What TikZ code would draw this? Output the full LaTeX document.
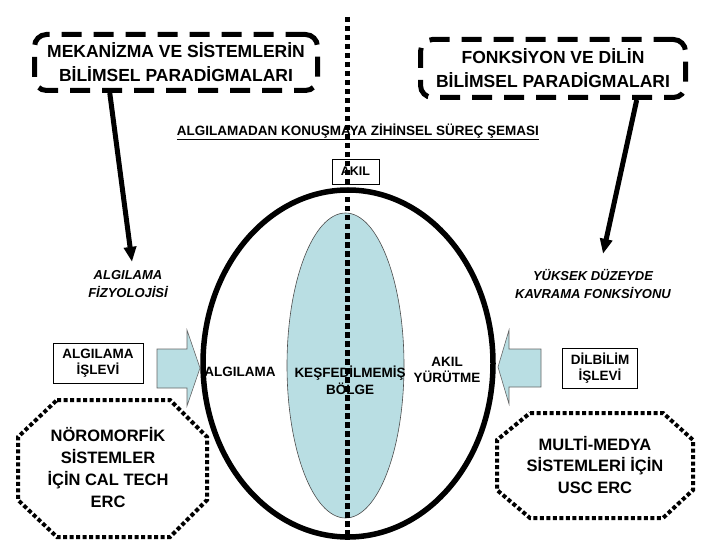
\documentclass[tikz,border=0pt]{standalone}
\usepackage{fontspec}
\setmainfont{Liberation Sans}
\usetikzlibrary{arrows.meta,calc}
\definecolor{acikmavi}{RGB}{185,222,227}
\begin{document}
\begin{tikzpicture}[x=1pt,y=-1pt,line join=miter,>={Triangle[length=15pt,width=12pt]},font=\bfseries]
	\tikzset{kesikkutu/.style={draw,line width=5pt,dash pattern=on 20pt off 12pt,rounded corners=12pt,
			align=center,inner sep=0pt,font=\bfseries\fontsize{17.5}{24}\selectfont},
		kutu/.style={draw,line width=0.8pt,inner sep=0pt},
		etiket/.style={align=center,font=\bfseries\itshape\fontsize{13}{18}\selectfont},
		metin/.style={align=center,font=\bfseries\fontsize{13.5}{16.5}\selectfont},
		ekip/.style={align=center,font=\bfseries\fontsize{16.5}{21.7}\selectfont},
		kalinok/.style={->,line width=5pt},
		blokok/.style={fill=acikmavi,draw=black!60,line width=0.6pt},
		noktali/.style={line width=4pt,dash pattern=on 4pt off 2.5pt},
		dikey/.style={line width=5pt,dash pattern=on 5.5pt off 3.5pt}}
	\useasboundingbox (0,0) rectangle (720,540);
	%--------- Paradigmalar
	\node[kesikkutu,minimum width=283pt,minimum height=56pt] (mekanizma) at (176,62.5) {MEKANİZMA VE SİSTEMLERİN\\BİLİMSEL PARADİGMALARI};
	\node[kesikkutu,minimum width=265pt,minimum height=58pt] (fonksiyon) at (553,68.5) {FONKSİYON VE DİLİN\\BİLİMSEL PARADİGMALARI};
	\node[etiket] (fizyoloji) at (128,284) {ALGILAMA\\FİZYOLOJİSİ};
	\node[etiket] (yuksek) at (593,284) {YÜKSEK DÜZEYDE\\KAVRAMA FONKSİYONU};
	\draw[kalinok] ($(mekanizma.south west)!0.27!(mekanizma.south east)$) -- ([xshift=4pt,yshift=5pt]fizyoloji.north);
	\draw[kalinok] ($(fonksiyon.south west)!0.81!(fonksiyon.south east)$) -- ([xshift=10pt,yshift=12pt]yuksek.north);
	%--------- Baslik
	\node[font=\bfseries\fontsize{13.5}{16}\selectfont] (baslik) at (358,132) {\underline{ALGILAMADAN KONUŞMAYA ZİHİNSEL SÜREÇ ŞEMASI}};
	\node[kutu,minimum width=47pt,minimum height=25pt,font=\bfseries\fontsize{12.5}{14}\selectfont] (akil) at (355.5,171.5) {AKIL};
	%--------- Blok oklar
	\draw[blokok] (157,349) -- (187,349) -- (187,330) -- (200,368) -- (187,406) -- (187,388) -- (157,388) -- cycle;
	\draw[blokok] (541,349) -- (509,349) -- (509,330) -- (498,367) -- (509,404) -- (509,387) -- (541,387) -- cycle;
	%--------- Elipsler
	\draw[line width=5.5pt] (348,363.5) ellipse [x radius=145pt,y radius=173.5pt];
	\draw[fill=acikmavi,draw=black!70,line width=0.6pt] (345.5,365.5) ellipse [x radius=58.5pt,y radius=152.5pt];
	\node[metin] (algilama) at (240,372) {ALGILAMA};
	\node[metin] (kesif) at (350,380.5) {KEŞFEDİLMEMİŞ\\BÖLGE};
	\node[metin] (yurutme) at (447,370) {AKIL\\YÜRÜTME};
	%--------- Islevler
	\node[kutu,metin,minimum width=90pt,minimum height=40pt] (algislev) at (98,363) {ALGILAMA\\İŞLEVİ};
	\node[kutu,metin,minimum width=75pt,minimum height=40pt] (dilbilim) at (600,368) {DİLBİLİM\\İŞLEVİ};
	%--------- Sekizgenler
	\draw[noktali] (57,400) -- (170,400) -- (207,437) -- (207,500) -- (170,537) -- (57,537) -- (18,500) -- (18,437) -- cycle;
	\node[ekip] (noromorfik) at (108,467.5) {NÖROMORFİK\\SİSTEMLER\\İÇİN CAL TECH\\ERC};
	\draw[noktali] (530,413) -- (663,413) -- (693,440) -- (693,490) -- (663,518) -- (530,518) -- (497,490) -- (497,440) -- cycle;
	\node[ekip] (multimedya) at (595,465) {MULTİ-MEDYA\\SİSTEMLERİ İÇİN\\USC ERC};
	%--------- Orta cizgi
	\draw[dikey] (347,17) -- (347,540);
\end{tikzpicture}
\end{document}
